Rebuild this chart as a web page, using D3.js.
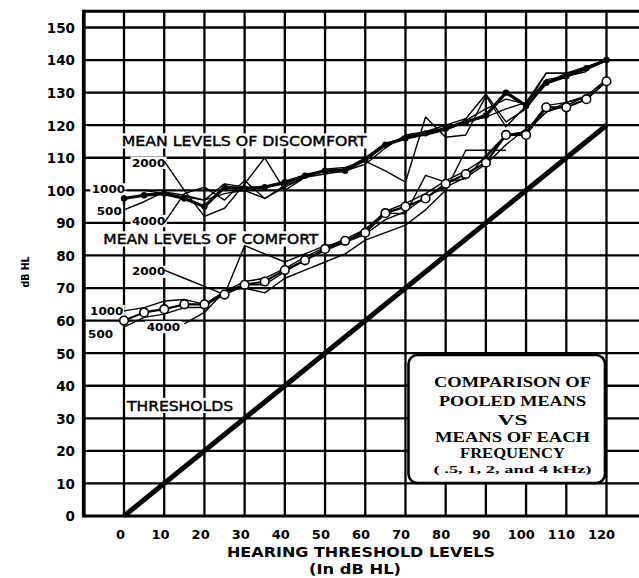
<!DOCTYPE html>
<html>
<head>
<meta charset="utf-8">
<script src="https://cdn.jsdelivr.net/npm/d3@7/dist/d3.min.js"></script>
<style>
  html, body { margin: 0; padding: 0; background: #fff; }
  svg { display: block; }
</style>
</head>
<body>
<svg id="chart" width="639" height="578"></svg>
<script>
// Hearing threshold levels (dB HL) at which the means were computed
const thresholdLevels = [0, 5, 10, 15, 20, 25, 30, 35, 40, 45, 50, 55, 60,
                         65, 70, 75, 80, 85, 90, 95, 100, 105, 110, 115, 120];

// Mean levels of discomfort (dB HL)
const discomfortPooled = [97.5, 98.5, 99, 97.5, 95, 101, 100.5, 101, 102.5, 104.5, 106, 106, 109.5,
                          114, 116, 117.5, 119, 121, 123, 130, 126, 133, 135, 137.5, 140];
const discomfort500  = [94, 96.5, 99.5, 98.5, 97, 99, 100, 97.5, 101, 104, 106, 106.5, 109,
                        114, 116.5, 118, 119, 121.5, 125, 128, 126.5, 134, 135, 136.5, null];
const discomfort1000 = [100, 100, 99, 98, 97, 102, 101, 101, 102, 104.5, 106, 106.5, 110,
                        114.5, 116, 117, 118.5, 121, 122.5, 125, 127, 136, 136, 138, 140];
const discomfort2000 = [null, null, 109, 100, 92, 94.5, 102, 110, 100, 104, 105, 106, 108,
                        113, 117, 118, 120, 122, 129.5, 121, 125, 133, 136, 137, null];
const discomfort4000 = [null, null, 90, 99, 101, 97, 103, 97.5, 101.5, 104, 106.5, 107, 109,
                        106, 102.5, 122.5, 116.3, 117, 129, 119.5, 126, 136, 136, 137, 140];

// Mean levels of comfort (dB HL)
const comfortPooled = [60, 62.5, 63.5, 65, 65, 68, 71, 72, 75.5, 78.5, 82, 84.5, 87,
                       93, 95, 97.5, 102, 105, 108.5, 117, 117, 125.5, 125.5, 128, 133.5];
const comfort500  = [58, 61, 62, 64, 64, 69, 71, 71, 75, 78.5, 81.5, 84, 86.5,
                     91, 93.5, 98, 101, 104, 108, 114, 119, 124, 127, 128.5, null];
const comfort1000 = [63, 64, 66, 66.5, 65, 69, 72, 73, 76, 79.5, 82.5, 85, 88,
                     93.5, 96, 99, 103, 106, 110, 117, 118, 126, 127, 129, 134];
const comfort2000 = [null, null, 75.5, 73, 70.5, 68, 83, 80.5, 78, 80.5, 83, 84, 88,
                     93, 92.8, 104.6, 102.5, 103.6, 110.7, 117, 118, 124, 126, 129, null];
const comfort4000 = [null, null, null, 59, 62.5, 69, 70, 68.5, 73, 75.5, 78, 80.5, 84.7,
                     87, 89.3, 94, 100, 112.3, 112.3, 112.3, null, null, null, null, null];

// Threshold reference line (threshold plotted against itself)
const thresholdX = [0, 120];
const thresholdY = [0, 120];

// Axis tick labels
const xTicks = [0, 10, 20, 30, 40, 50, 60, 70, 80, 90, 100, 110, 120];
const yTicks = [0, 10, 20, 30, 40, 50, 60, 70, 80, 90, 100, 110, 120, 130, 140, 150];

// Text of the legend box
const boxLines = ["COMPARISON OF", "POOLED MEANS", "VS", "MEANS OF EACH", "FREQUENCY",
                  "( .5, 1, 2, and 4 kHz)"];

// ---------------------------------------------------------------------------
const W = 639, H = 578;
const svg = d3.select("#chart");

const x = d3.scaleLinear().domain([0, 120]).range([124, 606.5]);
const y = d3.scaleLinear().domain([0, 150]).range([516, 27.5]);
// tick labels are lettered slightly left of the rules
const xLab = d3.scaleLinear().domain([0, 120]).range([120, 601]);

const xMin = -10, yMax = 155;
const plotLeft = x(xMin), plotTop = y(yMax), plotBottom = y(0);

// ---- grid ----
const grid = svg.append("g").attr("stroke", "#000").attr("fill", "none");
const gridX = d3.range(0, 131, 10);
const gridY = d3.range(10, 151, 10);
grid.selectAll("line.v").data(gridX).join("line")
  .attr("class", "v")
  .attr("x1", d => x(d)).attr("x2", d => x(d))
  .attr("y1", plotTop).attr("y2", plotBottom)
  .attr("stroke-width", 2.3);
grid.selectAll("line.h").data(gridY).join("line")
  .attr("class", "h")
  .attr("x1", plotLeft).attr("x2", W)
  .attr("y1", d => y(d)).attr("y2", d => y(d))
  .attr("stroke-width", 2.3);
// frame
grid.append("line").attr("x1", plotLeft).attr("x2", plotLeft).attr("y1", plotTop - 1.5).attr("y2", plotBottom + 1.5).attr("stroke-width", 3.8);
grid.append("line").attr("x1", plotLeft).attr("x2", W).attr("y1", plotTop).attr("y2", plotTop).attr("stroke-width", 3);
grid.append("line").attr("x1", plotLeft).attr("x2", W).attr("y1", plotBottom).attr("y2", plotBottom).attr("stroke-width", 3);

// ---- axes ----
const xAxis = svg.append("g")
  .attr("transform", `translate(0,${534.5})`)
  .call(d3.axisBottom(xLab).tickValues(xTicks).tickSize(0).tickPadding(0));
xAxis.select(".domain").remove();
xAxis.selectAll("text")
  .attr("y", 0).attr("dy", "0.36em")
  .attr("font-family", "DejaVu Sans").attr("font-weight", "bold")
  .attr("font-size", 13).attr("fill", "#000");

const yAxis = svg.append("g")
  .attr("transform", `translate(75,0)`)
  .call(d3.axisLeft(y).tickValues(yTicks).tickSize(0).tickPadding(0));
yAxis.select(".domain").remove();
yAxis.selectAll("text")
  .attr("x", 0).attr("dy", "0.36em")
  .attr("font-family", "DejaVu Sans").attr("font-weight", "bold")
  .attr("font-size", 13.5).attr("fill", "#000");

svg.append("text")
  .attr("x", 361).attr("y", 556.5).attr("text-anchor", "middle")
  .attr("font-family", "DejaVu Sans").attr("font-weight", "bold").attr("font-size", 13.5)
  .attr("textLength", 268).attr("lengthAdjust", "spacingAndGlyphs")
  .text("HEARING THRESHOLD LEVELS");
svg.append("text")
  .attr("x", 355).attr("y", 573.5).attr("text-anchor", "middle")
  .attr("font-family", "DejaVu Sans").attr("font-weight", "bold").attr("font-size", 13.5)
  .attr("textLength", 92).attr("lengthAdjust", "spacingAndGlyphs")
  .text("(In dB HL)");
svg.append("text")
  .attr("transform", "translate(29,272) rotate(-90)")
  .attr("text-anchor", "middle")
  .attr("font-family", "DejaVu Sans").attr("font-weight", "bold").attr("font-size", 11)
  .attr("textLength", 31).attr("lengthAdjust", "spacingAndGlyphs")
  .text("dB HL");

// ---- helpers ----
const bgLayer = svg.append("g");
const dataLayer = svg.append("g");
const textLayer = svg.append("g");

function label(txt, lx, baseline, width, size, weight) {
  const pad = 1.5;
  const capH = size * 0.73;
  bgLayer.append("rect")
    .attr("x", lx - pad).attr("y", baseline - capH - pad - 1)
    .attr("width", width + 2 * pad).attr("height", capH + 2 * pad + 2)
    .attr("fill", "#fff");
  const t = textLayer.append("text")
    .attr("x", lx).attr("y", baseline)
    .attr("font-family", "DejaVu Sans").attr("font-weight", weight)
    .attr("font-size", size)
    .attr("textLength", width).attr("lengthAdjust", "spacingAndGlyphs")
    .text(txt);
  if (weight === "normal") t.attr("stroke", "#000").attr("stroke-width", 0.45);
}

label("MEAN LEVELS OF DISCOMFORT", 121.7, 146, 245, 14, "normal");
label("MEAN LEVELS OF COMFORT", 103.3, 244, 215, 14, "normal");
label("THRESHOLDS", 127, 410.5, 106, 14, "normal");

const toPoints = vals => thresholdLevels.map((t, i) => [t, vals[i]]);
const line = d3.line()
  .defined(d => d[1] != null)
  .x(d => x(d[0])).y(d => y(d[1]));

// frequency labels: [text, values, dx from first point (right edge), dy from first point]
const freqSeries = [
  ["2000", discomfort2000, 1, 1.8],
  ["1000", discomfort1000, 1, -1],
  ["500",  discomfort500, -2.3, 1.8],
  ["4000", discomfort4000, 1, -1.9],
  ["2000", comfort2000, 1, 1.6],
  ["1000", comfort1000, -0.7, 0.2],
  ["500",  comfort500, -11, 7],
  ["4000", comfort4000, -4.3, 3.2]
];

freqSeries.forEach(([name, vals, dx, dy]) => {
  const pts = toPoints(vals);
  dataLayer.append("path")
    .attr("d", line(pts))
    .attr("fill", "none").attr("stroke", "#000")
    .attr("stroke-width", 1.4).attr("stroke-linejoin", "round");
  const first = pts.find(d => d[1] != null);
  const w = name.length * 8.3;
  const rx = x(first[0]) + dx;
  const cy = y(first[1]) + dy;
  label(name, rx - w, cy + 3.7, w, 10, "bold");
});

// threshold line
dataLayer.append("path")
  .attr("d", d3.line().x(d => x(d[0])).y(d => y(d[1]))(thresholdX.map((t, i) => [t, thresholdY[i]])))
  .attr("stroke", "#000").attr("stroke-width", 5).attr("fill", "none");

// pooled discomfort: heavy line with filled dots
const dp = toPoints(discomfortPooled);
dataLayer.append("path")
  .attr("d", line(dp))
  .attr("fill", "none").attr("stroke", "#000")
  .attr("stroke-width", 3.2).attr("stroke-linejoin", "round");
dataLayer.selectAll("circle.dp").data(dp).join("circle")
  .attr("class", "dp")
  .attr("cx", d => x(d[0])).attr("cy", d => y(d[1]))
  .attr("r", 3.2).attr("fill", "#000");

// pooled comfort: line with open circles
const cp = toPoints(comfortPooled);
dataLayer.append("path")
  .attr("d", line(cp))
  .attr("fill", "none").attr("stroke", "#000")
  .attr("stroke-width", 2.2).attr("stroke-linejoin", "round");
dataLayer.selectAll("circle.cp").data(cp).join("circle")
  .attr("class", "cp")
  .attr("cx", d => x(d[0])).attr("cy", d => y(d[1]))
  .attr("r", 4.3).attr("fill", "#fff").attr("stroke", "#000").attr("stroke-width", 1.6);

// ---- legend box ----
const box = svg.append("g");
box.append("rect")
  .attr("x", 408.5).attr("y", 355).attr("width", 196.5).attr("height", 128)
  .attr("rx", 9).attr("ry", 9)
  .attr("fill", "#fff").attr("stroke", "#000").attr("stroke-width", 2.6);
const boxBase = [387, 406, 424.5, 442, 458, 472.5];
const boxWidth = [157, 147, 30, 155, 105, 158];
boxLines.forEach((t, i) => {
  const small = i === boxLines.length - 1;
  box.append("text")
    .attr("x", 512.5).attr("y", boxBase[i]).attr("text-anchor", "middle")
    .attr("font-family", "Liberation Serif").attr("font-weight", "bold")
    .attr("font-size", small ? 11 : 15)
    .attr("textLength", boxWidth[i]).attr("lengthAdjust", "spacingAndGlyphs")
    .text(t);
});
</script>
</body>
</html>
